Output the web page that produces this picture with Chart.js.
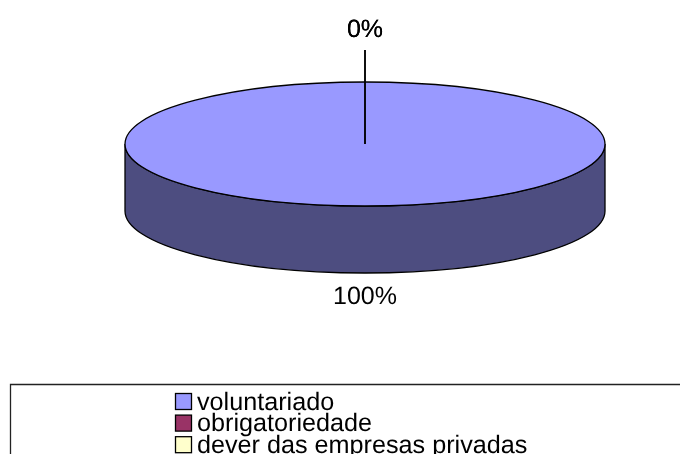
<!DOCTYPE html>
<html>
<head>
<meta charset="utf-8">
<style>
    html, body { margin: 0; padding: 0; background: #fff; overflow: hidden; }
    canvas { display: block; }
</style>
<script src="https://cdn.jsdelivr.net/npm/chart.js@4/dist/chart.umd.min.js"></script>
</head>
<body>
<canvas id="myChart" width="680" height="454"></canvas>
<script>
const categories = ['voluntariado', 'obrigatoriedade', 'dever das empresas privadas'];
const values = [100, 0, 0];
const colors = ['#9999FF', '#993366', '#FFFFCC'];

const wall_color = '#4D4D80';
const font_name = '"Liberation Sans", Arial, sans-serif';
const radius_x = 240;
const radius_y = 62;
const depth = 67;

// the pie is a flat circle, squash it to an ellipse while the library draws it
const tilt_plugin = {
    id: 'tilt',
    beforeDatasetsDraw(chart) {
        const arc = chart.getDatasetMeta(0).data[0];
        const ctx = chart.ctx;
        ctx.save();
        ctx.fillStyle = wall_color;
        ctx.strokeStyle = '#000';
        ctx.lineWidth = 1.3;
        ctx.beginPath();
        ctx.ellipse(arc.x, arc.y, radius_x, radius_y, 0, Math.PI, 0, true);
        ctx.lineTo(arc.x + radius_x, arc.y + depth);
        ctx.ellipse(arc.x, arc.y + depth, radius_x, radius_y, 0, 0, Math.PI);
        ctx.closePath();
        ctx.fill();
        ctx.stroke();
        ctx.restore();
    },
    beforeDatasetDraw(chart) {
        const arc = chart.getDatasetMeta(0).data[0];
        const ctx = chart.ctx;
        ctx.save();
        ctx.translate(arc.x, arc.y);
        ctx.scale(1, radius_y / radius_x);
        ctx.translate(-arc.x, -arc.y);
    },
    afterDatasetDraw(chart) {
        chart.ctx.restore();
    },
    afterDatasetsDraw(chart) {
        const meta = chart.getDatasetMeta(0);
        const arc = meta.data[0];
        const ctx = chart.ctx;
        const total = values.reduce((a, b) => a + b, 0);
        ctx.save();
        ctx.strokeStyle = '#000';
        ctx.lineWidth = 1.3;
        ctx.beginPath();
        ctx.ellipse(arc.x, arc.y, radius_x, radius_y, 0, 0, Math.PI * 2);
        ctx.stroke();

        ctx.fillStyle = '#000';
        ctx.font = '25px ' + font_name;
        ctx.textRendering = 'geometricPrecision';
        ctx.textAlign = 'center';
        ctx.textBaseline = 'middle';
        meta.data.forEach((item, i) => {
            const mid = (item.startAngle + item.endAngle) / 2;
            const below = Math.sin(mid) > 0;
            const y = below ? arc.y + radius_y + depth + 24 : arc.y - radius_y - 52;
            // leader line for the slices too thin to hold a label
            if (values[i] / total < 0.01) {
                ctx.lineWidth = 1.5;
                ctx.beginPath();
                ctx.moveTo(arc.x, arc.y - 94);
                ctx.lineTo(arc.x, arc.y);
                ctx.stroke();
            }
            ctx.fillText(Math.round(values[i] / total * 100) + '%', arc.x, y);
        });
        ctx.restore();
    },
    afterDraw(chart) {
        const ctx = chart.ctx;
        ctx.save();
        ctx.strokeStyle = '#222';
        ctx.lineWidth = 1.3;
        ctx.beginPath();
        ctx.moveTo(10.5, 460);
        ctx.lineTo(10.5, 384.5);
        ctx.lineTo(680, 384.5);
        ctx.stroke();

        ctx.font = '25.2px ' + font_name;
        ctx.textRendering = 'geometricPrecision';
        ctx.textAlign = 'left';
        ctx.textBaseline = 'alphabetic';
        categories.forEach((name, i) => {
            const y = 393.5 + i * 21.6;
            ctx.fillStyle = colors[i];
            ctx.fillRect(175.5, y, 16, 16);
            ctx.strokeStyle = '#000';
            ctx.strokeRect(175.5, y, 16, 16);
            ctx.fillStyle = '#000';
            ctx.fillText(name, 197, y + 16);
        });
        ctx.restore();
    }
};

const chart_data = {
    labels: categories,
    datasets: [{
        data: values,
        backgroundColor: colors,
        borderWidth: 0,
        clip: false
    }]
};

const chart_config = {
    type: 'pie',
    data: chart_data,
    plugins: [tilt_plugin],
    options: {
        responsive: false,
        animation: false,
        radius: radius_x,
        layout: { padding: { left: 50, bottom: 166 } },
        plugins: {
            legend: { display: false },
            tooltip: { enabled: false }
        }
    }
};

const myChart = new Chart(document.getElementById('myChart'), chart_config);
</script>
</body>
</html>
